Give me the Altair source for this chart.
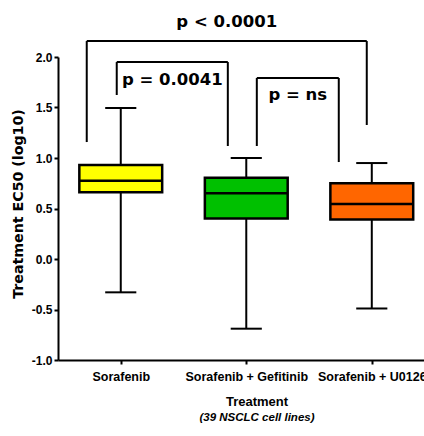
import altair as alt
import pandas as pd

# Summary statistics of treatment EC50 (log10) per treatment arm
treatments = ["Sorafenib", "Sorafenib + Gefitinib", "Sorafenib + U0126"]
positions = [0, 1, 2]
whisker_low = [-0.33, -0.69, -0.49]
q1 = [0.66, 0.40, 0.39]
median = [0.775, 0.65, 0.545]
q3 = [0.93, 0.805, 0.75]
whisker_high = [1.495, 1.00, 0.95]
colors = ["#FFFF00", "#00C000", "#FF6600"]

# Significance brackets (x in treatment-index units, y in log10 EC50 units)
bracket_left = [-0.271, -0.032, 1.084]
bracket_right = [1.96, 0.853, 1.737]
bracket_top = [2.158, 1.95, 1.792]
bracket_left_end = [1.158, 1.624, 1.119]
bracket_right_end = [1.327, 1.119, 0.96]
p_labels = ["p < 0.0001", "p = 0.0041", "p = ns"]
p_label_y = [2.297, 1.723, 1.574]

BOX_HALF = 0.33
CAP_HALF = 0.124
LABEL_FONT = "Liberation Sans"

stats = pd.DataFrame({
    "treatment": treatments,
    "pos": positions,
    "low": whisker_low,
    "q1": q1,
    "median": median,
    "q3": q3,
    "high": whisker_high,
    "color": colors,
})
stats["left"] = stats["pos"] - BOX_HALF
stats["right"] = stats["pos"] + BOX_HALF
stats["cap_left"] = stats["pos"] - CAP_HALF
stats["cap_right"] = stats["pos"] + CAP_HALF

brackets = pd.DataFrame({
    "x1": bracket_left,
    "x2": bracket_right,
    "top": bracket_top,
    "left_end": bracket_left_end,
    "right_end": bracket_right_end,
    "label": p_labels,
    "label_y": p_label_y,
})
brackets["mid"] = (brackets["x1"] + brackets["x2"]) / 2

label_expr = (
    "datum.value == 0 ? 'Sorafenib' : datum.value == 1 ? "
    "'Sorafenib + Gefitinib' : datum.value == 2 ? 'Sorafenib + U0126' : ''"
)

x_scale = alt.Scale(domain=[-0.5, 2.416], nice=False, zero=False)
y_scale = alt.Scale(domain=[-1.0, 2.0], nice=False, zero=False)

x_axis = alt.Axis(
    values=positions, labelExpr=label_expr, title=None, grid=False,
    domainColor="black", domainWidth=2, tickColor="black", tickWidth=2,
    tickSize=4, labelFont=LABEL_FONT, labelFontWeight="bold",
    labelFontSize=12.5, labelColor="black", labelPadding=6,
    labelOverlap=False, labelFlush=False,
)
y_axis = alt.Axis(
    values=[-1.0, -0.5, 0.0, 0.5, 1.0, 1.5, 2.0],
    labelExpr="replace(format(datum.value, '.1f'), '\u2212', '-')",
    title="Treatment EC50 (log10)", grid=False,
    domainColor="black", domainWidth=2, tickColor="black", tickWidth=2,
    tickSize=4, labelFont=LABEL_FONT, labelFontWeight="bold",
    labelFontSize=12, labelColor="black", labelPadding=2,
    titleFont="DejaVu Sans", titleFontWeight="bold", titleFontSize=14.2,
    titleColor="black", titleX=-33, titleY=146.5,
)

base = alt.Chart(stats)
X = lambda f: alt.X(f"{f}:Q", scale=x_scale, axis=x_axis)
Y = lambda f: alt.Y(f"{f}:Q", scale=y_scale, axis=y_axis)

whiskers_low = base.mark_rule(color="black", strokeWidth=2).encode(
    x=X("pos"), y=Y("low"), y2="q1"
)
whiskers_high = base.mark_rule(color="black", strokeWidth=2).encode(
    x=X("pos"), y=Y("q3"), y2="high"
)
caps_low = base.mark_rule(color="black", strokeWidth=2).encode(
    x=X("cap_left"), x2="cap_right", y=Y("low")
)
caps_high = base.mark_rule(color="black", strokeWidth=2).encode(
    x=X("cap_left"), x2="cap_right", y=Y("high")
)
boxes = base.mark_rect(stroke="black", strokeWidth=2.5).encode(
    x=X("left"), x2="right", y=Y("q1"), y2="q3",
    fill=alt.Fill("color:N", scale=None),
)
medians = base.mark_rule(color="black", strokeWidth=2.5).encode(
    x=X("left"), x2="right", y=Y("median")
)

bbase = alt.Chart(brackets)
b_top = bbase.mark_rule(color="black", strokeWidth=2).encode(
    x=X("x1"), x2="x2", y=Y("top")
)
b_left = bbase.mark_rule(color="black", strokeWidth=2).encode(
    x=X("x1"), y=Y("left_end"), y2="top"
)
b_right = bbase.mark_rule(color="black", strokeWidth=2).encode(
    x=X("x2"), y=Y("right_end"), y2="top"
)
b_text = bbase.mark_text(
    font="DejaVu Sans", fontWeight="bold", fontSize=16.5, color="black",
    baseline="alphabetic", align="center",
).encode(x=X("mid"), y=Y("label_y"), text="label:N")

chart = (
    alt.layer(
        whiskers_low, whiskers_high, caps_low, caps_high, boxes, medians,
        b_top, b_left, b_right, b_text,
    )
    .properties(
        width=366,
        height=303,
        padding={"left": 58, "top": 57, "right": 0, "bottom": 76},
        autosize=alt.AutoSizeParams(type="none"),
        view=alt.ViewBackground(stroke=None, strokeWidth=0, strokeOpacity=0),
        title=alt.TitleParams(
            text="Treatment",
            subtitle="(39 NSCLC cell lines)",
            orient="bottom",
            anchor="middle",
            dx=16,
            offset=13,
            font=LABEL_FONT,
            fontWeight="bold",
            fontSize=13,
            color="black",
            subtitleFont=LABEL_FONT,
            subtitleFontWeight="bold",
            subtitleFontStyle="italic",
            subtitleFontSize=11.5,
            subtitleColor="black",
            subtitlePadding=3,
        ),
    )
    .configure(
        background="white",
        style={"cell": {"stroke": "transparent", "strokeWidth": 0}},
    )
    .configure_view(stroke=None, strokeWidth=0, strokeOpacity=0, clip=False)
    .configure_axis(grid=False, gridOpacity=0)
)

chart.save("out.html", embed_options={"renderer": "svg", "actions": False})
